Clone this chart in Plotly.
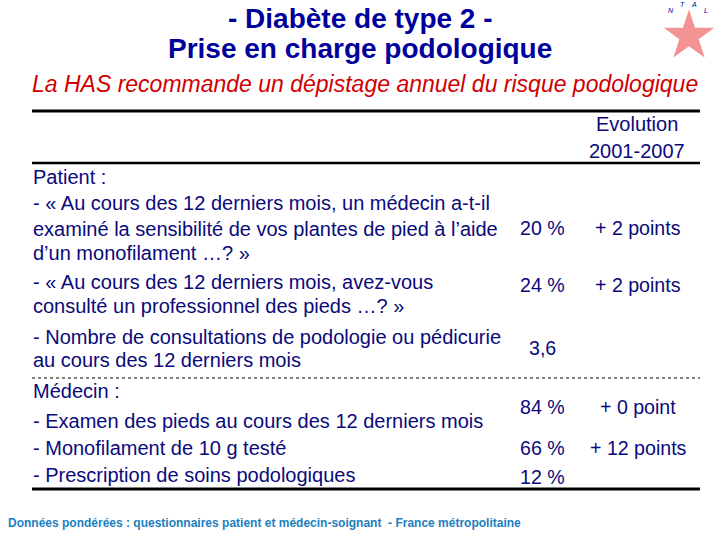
import plotly.graph_objects as go

# ---- data ----
titre = ["- Diabète de type 2 -", "Prise en charge podologique"]
sous_titre = "La HAS recommande un dépistage annuel du risque podologique"
entete = ["Evolution", "2001-2007"]
libelles = [
    "Patient :",
    "- « Au cours des 12 derniers mois, un médecin a-t-il",
    "examiné la sensibilité de vos plantes de pied à l’aide",
    "d’un monofilament …? »",
    "- « Au cours des 12 derniers mois, avez-vous",
    "consulté un professionnel des pieds …? »",
    "- Nombre de consultations de podologie ou pédicurie",
    "au cours des 12 derniers mois",
    "Médecin :",
    "- Examen des pieds au cours des 12 derniers mois",
    "- Monofilament de 10 g testé",
    "- Prescription de soins podologiques",
]
taux = ["20 %", "24 %", "3,6", "84 %", "66 %", "12 %"]
evolution = ["+ 2 points", "+ 2 points", "", "+ 0 point", "+ 12 points", ""]
source = "Données pondérées : questionnaires patient et médecin-soignant  - France métropolitaine"
logo_lettres = ["N", "T", "A", "L"]

# ---- layout (pixel grid) ----
y_libelles = [177, 203, 229, 253, 282, 306, 337, 360, 391, 421, 448, 475]
y_valeurs = [228, 285, 348, 407, 448, 477]

BLEU = "#0a0a7a"
TITRE = "#00009a"
ROUGE = "#d00000"
FONT = "Liberation Sans, Arial, sans-serif"

fig = go.Figure()

# logo approximation
fig.add_trace(go.Scatter(x=[689], y=[36], mode="markers",
                         marker=dict(symbol="star", size=38, color="#f07878", opacity=0.8,
                                     line=dict(width=0)),
                         hoverinfo="skip", showlegend=False))

ann = []
for t, y in zip(titre, [18, 48]):
    ann.append(dict(x=360, y=y, text="<b>%s</b>" % t, xanchor="center", yanchor="middle",
                    font=dict(family=FONT, size=28, color=TITRE)))
ann.append(dict(x=365, y=84, text="<i>%s</i>" % sous_titre, xanchor="center", yanchor="middle",
                font=dict(family=FONT, size=23, color=ROUGE)))
for t, y in zip(entete, [124, 151]):
    ann.append(dict(x=637, y=y, text=t, xanchor="center", yanchor="middle",
                    font=dict(family=FONT, size=20, color=BLEU)))
for t, y in zip(libelles, y_libelles):
    ann.append(dict(x=31, y=y, text=t, xanchor="left", yanchor="middle",
                    font=dict(family=FONT, size=20, color=BLEU)))
for t, e, y in zip(taux, evolution, y_valeurs):
    ann.append(dict(x=542, y=y, text=t, xanchor="center", yanchor="middle",
                    font=dict(family=FONT, size=19.6, color=BLEU)))
    if e:
        ann.append(dict(x=638, y=y, text=e, xanchor="center", yanchor="middle",
                        font=dict(family=FONT, size=19.6, color=BLEU)))
ann.append(dict(x=6, y=523, text="<b>%s</b>" % source, xanchor="left", yanchor="middle",
                font=dict(family=FONT, size=12, color="#1a7fc0")))
for l, (x, y) in zip(logo_lettres, [(671, 10), (682, 4), (694, 4), (706, 10)]):
    ann.append(dict(x=x, y=y, text="<i>%s</i>" % l, xanchor="center", yanchor="middle",
                    font=dict(family=FONT, size=7, color=TITRE)))
for a in ann:
    a.update(xref="x", yref="y", showarrow=False)

shapes = [
    dict(type="line", x0=32, x1=700, y0=111, y1=111, line=dict(color="black", width=3)),
    dict(type="line", x0=32, x1=700, y0=163, y1=163, line=dict(color="black", width=2.5)),
    dict(type="line", x0=32, x1=700, y0=378, y1=378, line=dict(color="black", width=1, dash="dot")),
    dict(type="line", x0=32, x1=700, y0=489, y1=489, line=dict(color="black", width=3)),
]
for s in shapes:
    s.update(xref="x", yref="y")

fig.update_layout(
    width=720, height=540,
    margin=dict(l=0, r=0, t=0, b=0, pad=0),
    paper_bgcolor="white", plot_bgcolor="white",
    xaxis=dict(range=[0, 720], visible=False, fixedrange=True),
    yaxis=dict(range=[540, 0], visible=False, fixedrange=True),
    annotations=ann, shapes=shapes,
    showlegend=False,
)

fig.write_html("out.html", config={"displayModeBar": False},
               post_script="document.body.style.margin='0';")
